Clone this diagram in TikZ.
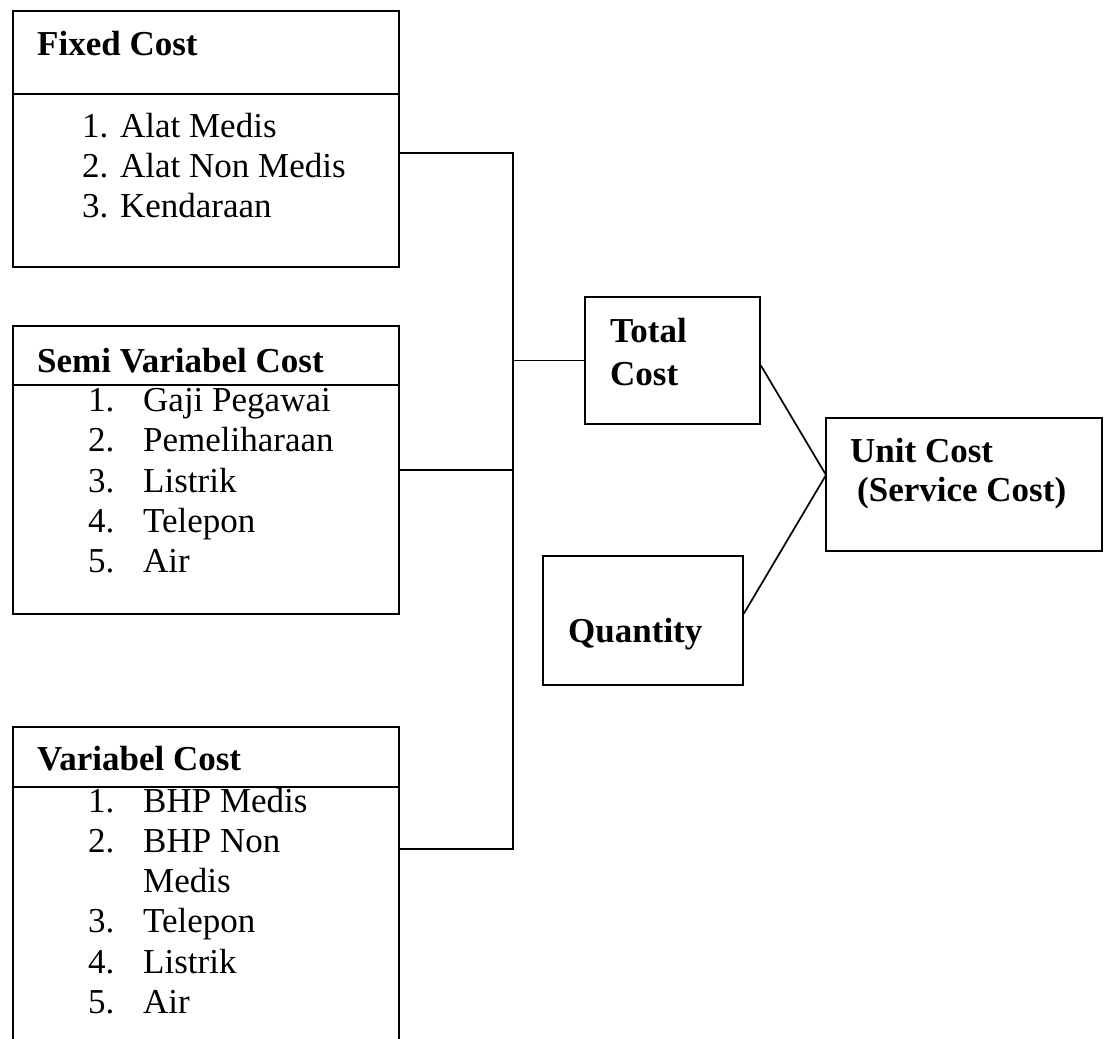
\documentclass[tikz,border=0pt]{standalone}
\usepackage{fontspec}
\setmainfont{Liberation Serif}
\begin{document}
\begin{tikzpicture}[x=1pt,y=-1pt,
  box/.style={draw, line width=1.8pt, inner sep=0pt},
  wire/.style={line width=1.7pt},
  txt/.style={anchor=base west, inner sep=0pt, font=\fontsize{35}{40}\selectfont},
  ttl/.style={txt, font=\fontsize{35}{40}\selectfont\bfseries}]
\useasboundingbox (0,0) rectangle (1104,1039);
\clip (0,0) rectangle (1104,1039);

% cost group boxes
\node[box, minimum width=386pt, minimum height=256pt] (fixed) at (206,139) {};
\node[box, minimum width=386pt, minimum height=288pt] (semi) at (206,470) {};
\node[box, minimum width=386pt, minimum height=333pt] (var) at (206,893.5) {};

% result boxes
\node[box, minimum width=175pt, minimum height=127pt] (total) at (672.5,360.5) {};
\node[box, minimum width=200pt, minimum height=129pt] (qty) at (643,620.5) {};
\node[box, minimum width=276pt, minimum height=133pt] (unit) at (964,484.5) {};

% header dividers
\draw[wire] (fixed.west |- 0,94) -- (fixed.east |- 0,94);
\draw[wire] (semi.west |- 0,385) -- (semi.east |- 0,385);
\draw[wire] (var.west |- 0,787) -- (var.east |- 0,787);

% Fixed Cost
\node[ttl] (fixedT) at (37,55) {Fixed Cost};
\node[txt] (f1) at (82,137) {1. Alat Medis};
\node[txt] (f2) at (82,177) {2. Alat Non Medis};
\node[txt] (f3) at (82,217) {3. Kendaraan};

% Semi Variabel Cost
\node[ttl] (semiT) at (37,372) {Semi Variabel Cost};
\node[txt] (s1n) at (88,411) {1.};
\node[txt] (s1) at (143,411) {Gaji Pegawai};
\node[txt] (s2n) at (88,451) {2.};
\node[txt] (s2) at (143,451) {Pemeliharaan};
\node[txt] (s3n) at (88,492) {3.};
\node[txt] (s3) at (143,492) {Listrik};
\node[txt] (s4n) at (88,532) {4.};
\node[txt] (s4) at (143,532) {Telepon};
\node[txt] (s5n) at (88,572) {5.};
\node[txt] (s5) at (143,572) {Air};

% Variabel Cost
\node[ttl] (varT) at (37,770) {Variabel Cost};
\node[txt] (v1n) at (88,812) {1.};
\node[txt] (v1) at (143,812) {BHP Medis};
\node[txt] (v2n) at (88,852) {2.};
\node[txt] (v2) at (143,852) {BHP Non};
\node[txt] (v2b) at (143,892) {Medis};
\node[txt] (v3n) at (88,932) {3.};
\node[txt] (v3) at (143,932) {Telepon};
\node[txt] (v4n) at (88,973) {4.};
\node[txt] (v4) at (143,973) {Listrik};
\node[txt] (v5n) at (88,1013) {5.};
\node[txt] (v5) at (143,1013) {Air};

% result labels
\node[ttl] (totalT1) at (610,342) {Total};
\node[ttl] (totalT2) at (610,385) {Cost};
\node[ttl] (qtyT) at (568,642) {Quantity};
\node[ttl] (unitT1) at (850,462) {Unit Cost};
\node[ttl] (unitT2) at (857,501) {(Service Cost)};

% collecting bus
\coordinate (busTop) at (513,153);
\coordinate (busBot) at (513,849);
\coordinate (unitIn) at (826,475);
\draw[wire] (fixed.east |- busTop) -- (busTop) -- (busBot) -- (var.east |- busBot);
\draw[wire] (semi.east) -- (semi.east -| busTop);
\draw[wire] (busTop |- total.west) -- (total.west);

% into unit cost
\draw[wire] ([yshift=-5pt]total.east) -- (unitIn);
\draw[wire] ([yshift=7pt]qty.east) -- (unitIn);
\end{tikzpicture}
\end{document}
